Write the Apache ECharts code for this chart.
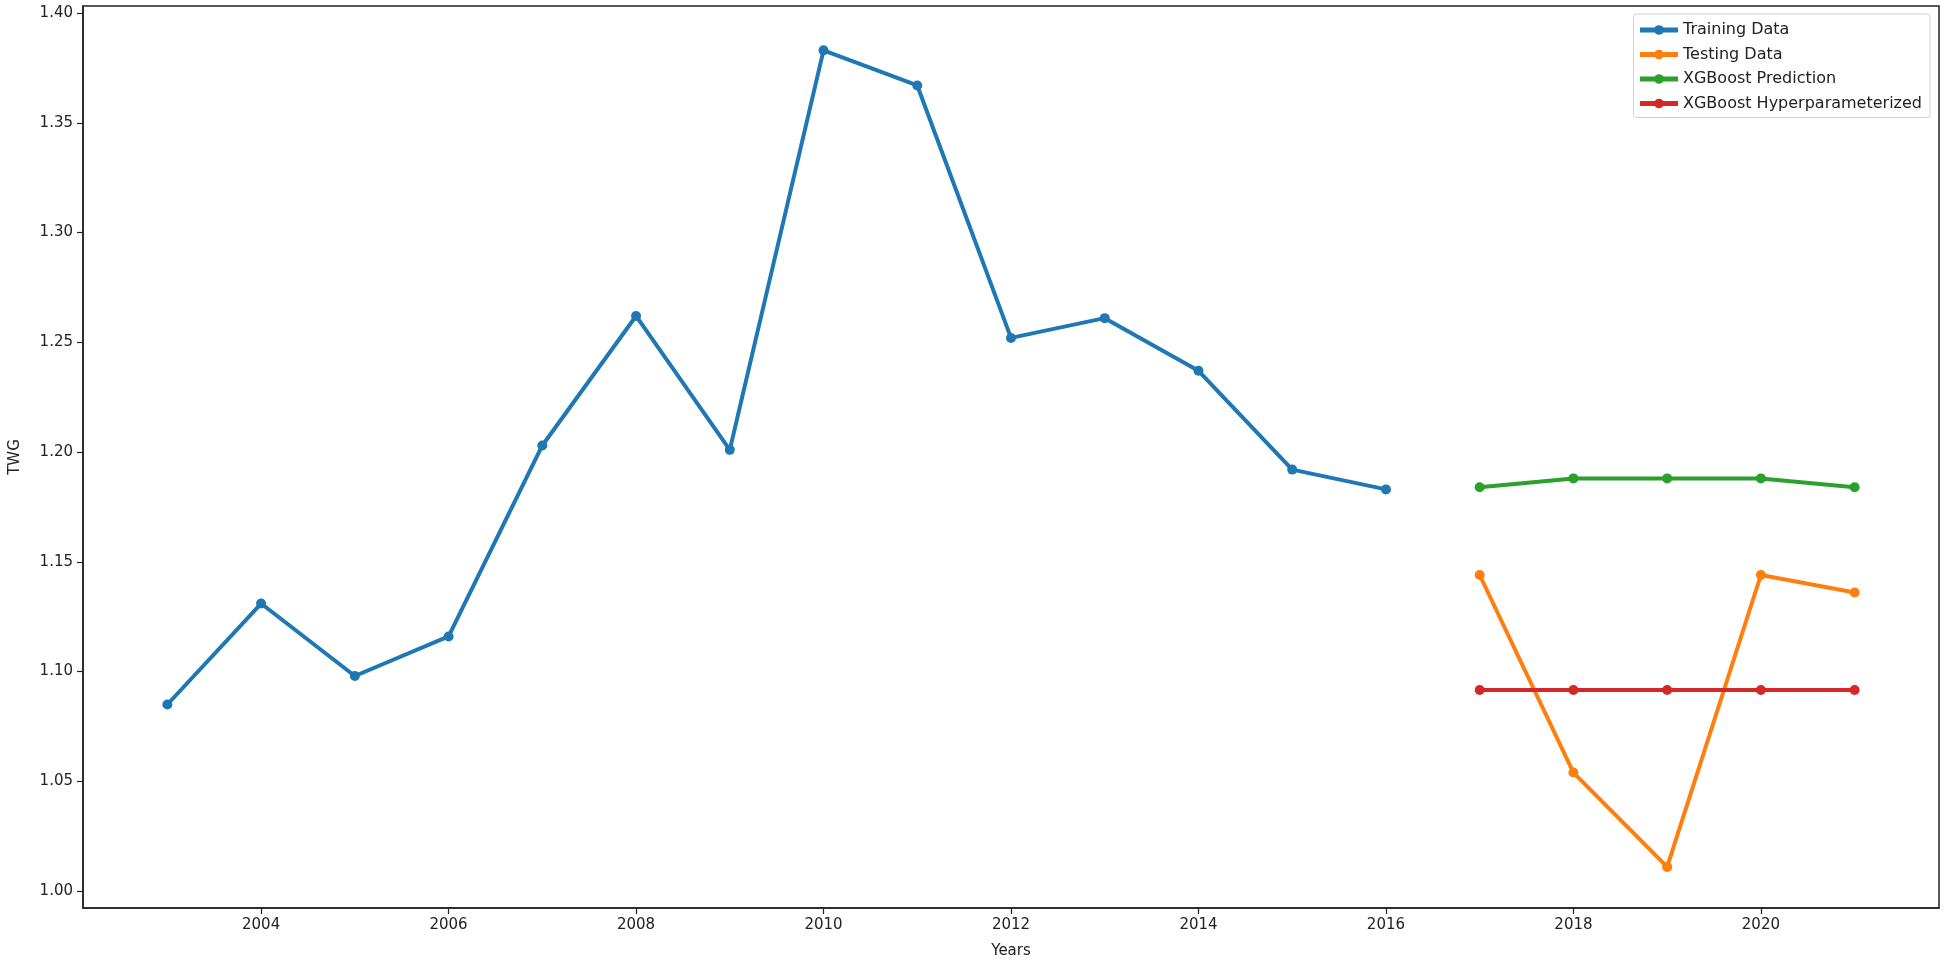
<!DOCTYPE html>
<html>
<head>
<meta charset="utf-8">
<title>TWG</title>
<script src="https://cdn.jsdelivr.net/npm/echarts@6/dist/echarts.min.js"></script>
<style>
  html, body { margin: 0; padding: 0; background: #fff; }
  #chart { width: 1945px; height: 964px; }
</style>
</head>
<body>
<div id="chart"></div>
<script>
// values
const trainYears = [2003, 2004, 2005, 2006, 2007, 2008, 2009, 2010, 2011, 2012, 2013, 2014, 2015, 2016];
const trainValues = [1.085, 1.131, 1.098, 1.116, 1.203, 1.262, 1.201, 1.383, 1.367, 1.252, 1.261, 1.237, 1.192, 1.183];
const testYears = [2017, 2018, 2019, 2020, 2021];
const testValues = [1.144, 1.054, 1.011, 1.144, 1.136];
const xgbValues = [1.184, 1.188, 1.188, 1.188, 1.184];
const xgbHyperValues = [1.0916, 1.0916, 1.0916, 1.0916, 1.0916];
const xTicks = [2004, 2006, 2008, 2010, 2012, 2014, 2016, 2018, 2020];
const yTicks = [1.00, 1.05, 1.10, 1.15, 1.20, 1.25, 1.30, 1.35, 1.40];

const pairs = (xs, ys) => xs.map((x, i) => [x, ys[i]]);

const lineSeries = (name, color, data) => ({
    name: name,
    type: 'line',
    data: data,
    symbol: 'circle',
    symbolSize: 10,
    lineStyle: { width: 4, color: color },
    itemStyle: { color: color },
    emphasis: { disabled: true },
    animation: false
})

const myChart = echarts.init(document.getElementById('chart'))
myChart.setOption({
    textStyle: { fontFamily: 'DejaVu Sans' },
    grid: {
        left: 80, right: 6, top: 6, bottom: 53,
        show: true, borderColor: '#222', borderWidth: 1.5,
        containLabel: false
    },
    legend: {
        orient: 'vertical',
        right: 15,
        top: 14,
        padding: [7, 8, 5, 4],
        borderColor: '#d0d0d0',
        borderWidth: 1,
        borderRadius: 3,
        itemWidth: 38,
        itemHeight: 12,
        itemGap: 6.5,
        lineStyle: { width: 5 },
        textStyle: { fontSize: 16, lineHeight: 18, color: '#222' },
        data: ['Training Data', 'Testing Data', 'XGBoost Prediction', 'XGBoost Hyperparameterized']
    },
    xAxis: {
        type: 'value',
        min: 2002.1,
        max: 2021.9,
        name: 'Years',
        nameLocation: 'middle',
        nameGap: 36,
        nameTextStyle: { fontSize: 15, color: '#222' },
        splitLine: { show: false },
        axisLine: { show: true, lineStyle: { color: '#222', width: 1.5 } },
        axisTick: { show: true, customValues: xTicks, length: 6, lineStyle: { color: '#222', width: 1.2 } },
        axisLabel: {
            customValues: xTicks, fontSize: 15, color: '#222', margin: 10,
            formatter: v => String(v)
        }
    },
    yAxis: {
        type: 'value',
        min: 0.9923,
        max: 1.4032,
        name: 'TWG',
        nameLocation: 'middle',
        nameGap: 60,
        nameTextStyle: { fontSize: 15, color: '#222' },
        splitLine: { show: false },
        axisLine: { show: true, lineStyle: { color: '#222', width: 1.5 } },
        axisTick: { show: true, customValues: yTicks, length: 6, lineStyle: { color: '#222', width: 1.2 } },
        axisLabel: {
            customValues: yTicks, fontSize: 15, color: '#222', margin: 10,
            formatter: v => v.toFixed(2)
        }
    },
    series: [
        lineSeries('Training Data', '#1f77b4', pairs(trainYears, trainValues)),
        lineSeries('Testing Data', '#ff7f0e', pairs(testYears, testValues)),
        lineSeries('XGBoost Prediction', '#2ca02c', pairs(testYears, xgbValues)),
        lineSeries('XGBoost Hyperparameterized', '#d62728', pairs(testYears, xgbHyperValues))
    ]
})
</script>
</body>
</html>
